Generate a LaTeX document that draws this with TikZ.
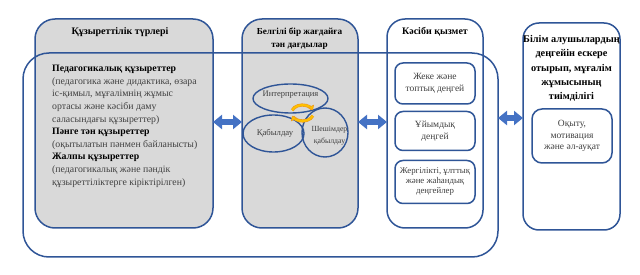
\documentclass[tikz,border=0pt]{standalone}
\usepackage{fontspec}
\setmainfont{Liberation Serif}
\usetikzlibrary{shapes.geometric,arrows.meta}
\definecolor{bl}{HTML}{2F5597}
\definecolor{arr}{HTML}{4472C4}
\definecolor{gr}{HTML}{D9D9D9}
\definecolor{tx}{HTML}{404040}
\definecolor{gold}{HTML}{FFC000}
\definecolor{orng}{HTML}{ED9B1F}
\begin{document}
\begin{tikzpicture}[x=1pt,y=-1pt,
  frame/.style={draw=bl, line width=1.5pt, inner sep=0pt, outer sep=0pt},
  greybox/.style={frame, fill=gr, rounded corners=20pt},
  whitebox/.style={frame, fill=white, rounded corners=18pt},
  smallbox/.style={frame, fill=white, rounded corners=8pt, minimum width=80pt, align=center, text=tx, font=\fontsize{9.5}{11.5}\selectfont},
  oval/.style={draw=bl, line width=1.4pt, ellipse, inner sep=0pt},
  ttl/.style={inner sep=0pt, align=center, font=\bfseries\fontsize{10}{13}\selectfont},
  body/.style={inner sep=0pt, align=left, text=tx, font=\fontsize{9.8}{12.6}\selectfont},
  otext/.style={inner sep=0pt, align=center, text=tx, font=\fontsize{8.5}{12}\selectfont},
  dbl/.style={arr, line width=6pt, {Triangle[length=9pt,width=14pt]}-{Triangle[length=9pt,width=14pt]}},
  cycbase/.style={orng, line width=3.2pt},
  cyc/.style={gold, line width=2pt, -{Triangle[length=4.5pt,width=7pt,fill=gold,color=orng,line width=0.5pt]}}
]
\useasboundingbox (0,0) rectangle (640,275);

% main boxes
\node[greybox, minimum width=178pt, minimum height=209pt] (b1) at (124,123.5) {};
\node[greybox, minimum width=116pt, minimum height=209pt] (b2) at (300,123.5) {};
\node[whitebox, minimum width=96pt, minimum height=209pt] (b3) at (435,123.5) {};
\node[whitebox, rounded corners=16pt, minimum width=97pt, minimum height=207pt] (b4) at (571.5,126.5) {};

% outer frame on top
\node[frame, rounded corners=26pt, minimum width=475pt, minimum height=204pt] (outer) at (260.5,155) {};

% box 1 texts
\node[ttl] (t1) at (120,32) {Құзыреттілік түрлері};
\node[body, anchor=north west] (t1b) at (52,65) {%
\textbf{\color{black}Педагогикалық құзыреттер}\\
(педагогика және дидактика, өзара\\
іс-қимыл, мұғалімнің жұмыс\\
ортасы және кәсіби даму\\
саласындағы құзыреттер)\\
\textbf{\color{black}Пәнге тән құзыреттер}\\
(оқытылатын пәнмен байланысты)\\
\textbf{\color{black}Жалпы құзыреттер}\\
(педагогикалық және пәндік\\
құзыреттіліктерге кіріктірілген)};

% box 2 texts
\node[ttl, font=\bfseries\fontsize{9.2}{13}\selectfont] (t2) at (299.5,39) {Белгілі бір жағдайға\\тән дағдылар};
\node[oval, minimum width=75pt, minimum height=29pt] (e1) at (290.5,98.5) {};
\node[oval, minimum width=61pt, minimum height=37pt] (e2) at (273.5,133.5) {};
\node[oval, minimum width=46pt, minimum height=49pt] (e3) at (325,132.5) {};
\node[otext] (te1) at (290.5,94.5) {Интерпретация};
\node[otext, font=\fontsize{8.7}{12}\selectfont] (te2) at (275,133.5) {Қабылдау};
\node[otext, font=\fontsize{7.8}{12}\selectfont] (te3) at (329.5,135.5) {Шешімдер\\қабылдау};
\coordinate (cc) at (302.5,113);
\draw[cycbase] ([shift={(200:11 and 8)}]cc) arc[start angle=200, end angle=330, x radius=11, y radius=8];
\draw[cycbase] ([shift={(20:11 and 8)}]cc) arc[start angle=20, end angle=150, x radius=11, y radius=8];
\draw[cyc] ([shift={(200:11 and 8)}]cc) arc[start angle=200, end angle=340, x radius=11, y radius=8];
\draw[cyc] ([shift={(20:11 and 8)}]cc) arc[start angle=20, end angle=160, x radius=11, y radius=8];

% box 3 texts
\node[ttl] (t3) at (435,32) {Кәсіби қызмет};
\node[smallbox, minimum height=41pt] (k1) at (435,83.5) {Жеке және\\топтық деңгей};
\node[smallbox, minimum height=39pt] (k2) at (435,131) {Ұйымдық\\деңгей};
\node[smallbox, minimum height=43pt, font=\fontsize{8.8}{10}\selectfont] (k3) at (435,182) {Жергілікті, ұлттық\\және жаһандық\\деңгейлер};

% box 4 texts
\node[ttl, font=\bfseries\fontsize{10.3}{14.2}\selectfont] (t4) at (571.5,68.5) {Білім алушылардың\\деңгейін ескере\\отырып, мұғалім\\жұмысының\\тиімділігі};
\node[smallbox, rounded corners=10pt, minimum height=54pt] (k4) at (572,136) {Оқыту,\\мотивация\\және әл-ауқат};

% arrows
\coordinate (ya) at (0,122);
\coordinate (yb) at (0,118);
\draw[dbl] (b1.east |- ya) -- (b2.west |- ya);
\draw[dbl] (b2.east |- ya) -- (b3.west |- ya);
\draw[dbl] (outer.east |- yb) -- (b4.west |- yb);
\end{tikzpicture}
\end{document}
